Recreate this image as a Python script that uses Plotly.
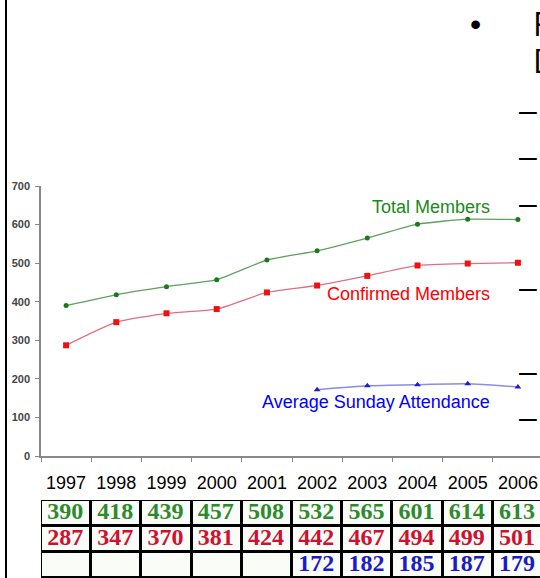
import plotly.graph_objects as go

W, H = 540, 578

anos = ["1997", "1998", "1999", "2000", "2001", "2002", "2003", "2004", "2005", "2006"]
total_membros = [390, 418, 439, 457, 508, 532, 565, 601, 614, 613]
membros_confirmados = [287, 347, 370, 381, 424, 442, 467, 494, 499, 501]
anos_frequencia = ["2002", "2003", "2004", "2005", "2006"]
frequencia_domingo = [172, 182, 185, 187, 179]

linhas_tabela = [
    [str(v) for v in total_membros],
    [str(v) for v in membros_confirmados],
    [""] * 5 + [str(v) for v in frequencia_domingo],
]
cores_tabela = ["#2f8a2f", "#d0102e", "#1a1ac8"]


def px_x(p):
    return p / W


def px_y(p):
    return 1 - p / H


fig = go.Figure()

fig.add_trace(go.Scatter(
    x=anos, y=total_membros, mode="lines+markers",
    line=dict(color="#5f9f5f", width=1.3, shape="spline", smoothing=0.5),
    marker=dict(symbol="circle", size=5, color="#1b7a1b"),
    showlegend=False, hoverinfo="x+y",
))
fig.add_trace(go.Scatter(
    x=anos, y=membros_confirmados, mode="lines+markers",
    line=dict(color="#e0707f", width=1.3, shape="spline", smoothing=0.5),
    marker=dict(symbol="square", size=6, color="#ee1111"),
    showlegend=False, hoverinfo="x+y",
))
fig.add_trace(go.Scatter(
    x=anos_frequencia, y=frequencia_domingo, mode="lines+markers",
    line=dict(color="#8c8ce0", width=1.5, shape="spline", smoothing=0.5),
    marker=dict(symbol="triangle-up", size=6, color="#2020c0"),
    showlegend=False, hoverinfo="x+y",
))

# tabela abaixo do grafico: celulas como heatmap, grade preta por tras
n = len(anos)
fig.add_trace(go.Heatmap(
    x=list(range(n)), y=[0, 1, 2],
    z=[[1] * n for _ in range(3)],
    colorscale=[[0, "#fafcf8"], [1, "#fafcf8"]],
    showscale=False, xgap=3, ygap=3, hoverinfo="skip",
    xaxis="x2", yaxis="y2",
))
for r, (linha, cor) in enumerate(zip(linhas_tabela, cores_tabela)):
    fig.add_trace(go.Scatter(
        x=[i + 0.34 for i in range(n)], y=[r] * n, mode="text",
        text=linha, textposition="middle left",
        textfont=dict(family="Liberation Serif", size=24, color=cor, weight="bold"),
        showlegend=False, hoverinfo="skip",
        xaxis="x2", yaxis="y2",
    ))

fig.add_shape(type="rect", xref="x2", yref="y2", x0=-0.54, x1=10, y0=-0.56, y1=2.6,
              fillcolor="black", line_width=0, layer="below")

# borda esquerda do slide
fig.add_shape(type="line", xref="paper", yref="paper", x0=px_x(6), x1=px_x(6), y0=0, y1=1,
              line=dict(color="black", width=2))

rotulos = [
    ("Total Members", "#1a8a1a", 207),
    ("Confirmed Members", "#ff0000", 294),
    ("Average Sunday Attendance", "#0000ff", 402),
]
for texto, cor, yp in rotulos:
    fig.add_annotation(text=texto, xref="paper", yref="paper", x=px_x(492), y=px_y(yp),
                       xanchor="right", yanchor="middle", showarrow=False,
                       font=dict(family="Liberation Sans", size=18, color=cor))

# texto do slide cortado a direita
fig.add_annotation(text="•", xref="paper", yref="paper", x=px_x(475), y=px_y(24),
                   xanchor="center", yanchor="middle", showarrow=False,
                   font=dict(family="Liberation Sans", size=32, color="black"))
for letra, yp in [("F", 24), ("D", 61)]:
    fig.add_annotation(text=letra, xref="paper", yref="paper", x=px_x(531), y=px_y(yp),
                       xanchor="left", yanchor="middle", showarrow=False,
                       font=dict(family="Open Sans", size=32, color="black"))
for yp in [110, 156, 203, 287, 371, 417]:
    fig.add_annotation(text="–", xref="paper", yref="paper", x=px_x(517), y=px_y(yp),
                       xanchor="left", yanchor="middle", showarrow=False,
                       font=dict(family="Liberation Sans", size=32, color="black"))

fig.update_layout(
    width=W, height=H, autosize=False,
    margin=dict(l=0, r=0, t=0, b=0, pad=0),
    paper_bgcolor="white", plot_bgcolor="white",
    xaxis=dict(
        type="category", domain=[px_x(41), 1], range=[-0.5, 9.44],
        anchor="y", tickson="boundaries", ticks="outside", ticklen=4,
        tickcolor="#888888", showline=True, linecolor="#888888", linewidth=1.5,
        showgrid=False, zeroline=False, ticklabelstandoff=10, automargin=False,
        tickfont=dict(family="Liberation Sans", size=18, color="black"),
    ),
    yaxis=dict(
        domain=[px_y(456), px_y(186)], range=[0, 700], anchor="x",
        tickvals=[0, 100, 200, 300, 400, 500, 600, 700],
        ticks="outside", ticklen=4, tickcolor="#888888",
        showline=True, linecolor="#888888", linewidth=1.5,
        showgrid=False, zeroline=False, ticklabelstandoff=3, automargin=False,
        tickfont=dict(family="Liberation Sans", size=11, color="#444444", weight="bold"),
    ),
    xaxis2=dict(domain=[px_x(41), 1], range=[-0.5, 9.44], anchor="y2", visible=False,
                automargin=False),
    yaxis2=dict(domain=[0, px_y(500)], range=[2.5, -0.5], anchor="x2", visible=False,
                automargin=False),
)

fig.write_html("out.html", config={"displayModeBar": False},
               post_script="document.body.style.margin='0';")
